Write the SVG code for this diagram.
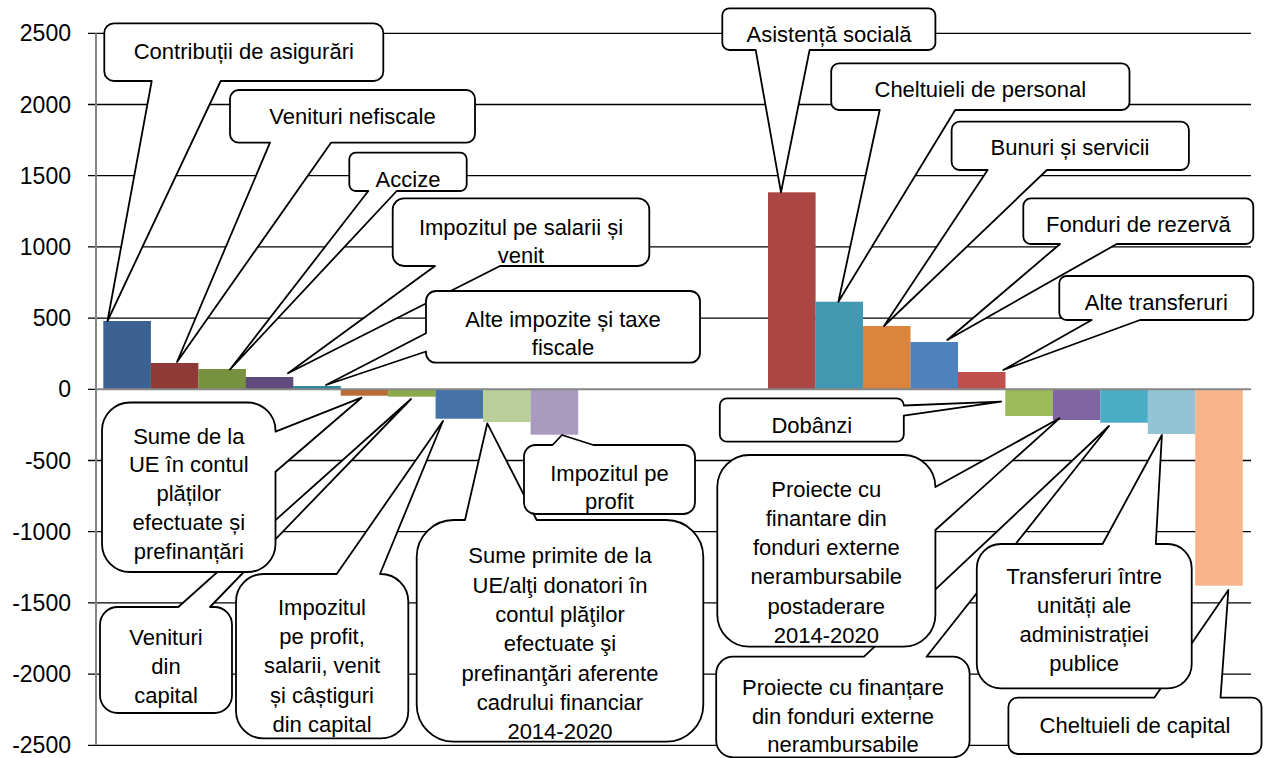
<svg xmlns="http://www.w3.org/2000/svg" width="1264" height="758" viewBox="0 0 1264 758">
<style>
.grid{stroke:#000;stroke-width:1.3;fill:none}
.axis{stroke:#868686;stroke-width:2;fill:none}
.ax{font-family:"Liberation Sans",Arial,sans-serif;font-size:23px;fill:#000;text-anchor:end}
.co{fill:#fff;stroke:#000;stroke-width:1.8;stroke-linejoin:round}
.t{font-family:"Liberation Sans",Arial,sans-serif;font-size:22px;fill:#000;text-anchor:middle}
</style>
<rect width="1264" height="758" fill="#fff"/>
<g id="gridlines">
<path class="grid" d="M88,33.3H1251M88,104.5H1251M88,175.7H1251M88,246.9H1251M88,318.1H1251M88,460.5H1251M88,531.7H1251M88,602.9H1251M88,674.1H1251M88,745.3H1251M88,389.3H96"/>
</g>
<g id="axis-labels">
<text class="ax" x="71" y="41.3">2500</text>
<text class="ax" x="71" y="112.5">2000</text>
<text class="ax" x="71" y="183.7">1500</text>
<text class="ax" x="71" y="254.9">1000</text>
<text class="ax" x="71" y="326.1">500</text>
<text class="ax" x="71" y="397.3">0</text>
<text class="ax" x="71" y="468.5">-500</text>
<text class="ax" x="71" y="539.7">-1000</text>
<text class="ax" x="71" y="610.9">-1500</text>
<text class="ax" x="71" y="682.1">-2000</text>
<text class="ax" x="71" y="753.3">-2500</text>
</g>
<g id="bars">
<rect x="103.3" y="321" width="47.6" height="68.3" fill="#3C6291"/>
<rect x="150.8" y="363" width="47.6" height="26.3" fill="#8F3A37"/>
<rect x="198.3" y="369" width="47.6" height="20.3" fill="#76923F"/>
<rect x="245.7" y="377" width="47.6" height="12.3" fill="#604A7B"/>
<rect x="293.2" y="386" width="47.6" height="3.3" fill="#31859C"/>
<rect x="340.7" y="389.3" width="47.6" height="6.4" fill="#B86B35"/>
<rect x="388.2" y="389.3" width="47.6" height="7.4" fill="#8BA84F"/>
<rect x="435.6" y="389.3" width="47.6" height="29.4" fill="#4672A8"/>
<rect x="483.1" y="389.3" width="47.6" height="32.7" fill="#B9CE98"/>
<rect x="530.6" y="389.3" width="47.6" height="45.4" fill="#A99BBD"/>
<rect x="768" y="192.3" width="47.6" height="197" fill="#AA4644"/>
<rect x="815.4" y="301.7" width="47.6" height="87.6" fill="#4298B0"/>
<rect x="862.9" y="326" width="47.6" height="63.3" fill="#DB843D"/>
<rect x="910.4" y="342" width="47.6" height="47.3" fill="#4F81BD"/>
<rect x="957.9" y="372" width="47.6" height="17.3" fill="#C0504D"/>
<rect x="1005.3" y="389.3" width="47.6" height="26.7" fill="#9BBB59"/>
<rect x="1052.8" y="389.3" width="47.6" height="30.7" fill="#8064A2"/>
<rect x="1100.3" y="389.3" width="47.6" height="33.4" fill="#4BACC6"/>
<rect x="1147.8" y="389.3" width="47.6" height="44.7" fill="#93C4D5"/>
<rect x="1195.2" y="389.3" width="47.6" height="196.4" fill="#F8B48C"/>
</g>
<g id="axes">
<path class="axis" d="M96,389.3H1251"/>
<path class="axis" d="M96,33.3V745.3" stroke-width="1.5"/>
</g>
<g id="c1">
<path class="co" d="M113.9,23.3 H373.7 A9.6,9.6 0 0 1 383.3,32.9 V71.4 A9.6,9.6 0 0 1 373.7,81 H220.7 L107.5,321 L151.7,81 H113.9 A9.6,9.6 0 0 1 104.3,71.4 V32.9 A9.6,9.6 0 0 1 113.9,23.3 Z"/>
<text class="t" x="243.8" y="59">Contribuții de asigurări</text>
</g>
<g id="c2">
<path class="co" d="M238.8,90 H466.2 A8.8,8.8 0 0 1 475,98.8 V133.9 A8.8,8.8 0 0 1 466.2,142.7 H331 L177,362 L270,142.7 H238.8 A8.8,8.8 0 0 1 230,133.9 V98.8 A8.8,8.8 0 0 1 238.8,90 Z"/>
<text class="t" x="352.5" y="124.3">Venituri nefiscale</text>
</g>
<g id="c3">
<path class="co" d="M355.7,152.7 H460.3 A6.4,6.4 0 0 1 466.7,159.1 V184.6 A6.4,6.4 0 0 1 460.3,191 H396.7 L230,369.5 L368.3,191 H355.7 A6.4,6.4 0 0 1 349.3,184.6 V159.1 A6.4,6.4 0 0 1 355.7,152.7 Z"/>
<text class="t" x="408" y="187">Accize</text>
</g>
<g id="c4">
<path class="co" d="M404,198.3 H638 A11.3,11.3 0 0 1 649.3,209.6 V254.7 A11.3,11.3 0 0 1 638,266 H500 L288,373.3 L435,266 H404 A11.3,11.3 0 0 1 392.7,254.7 V209.6 A11.3,11.3 0 0 1 404,198.3 Z"/>
<text class="t" x="521" y="235">Impozitul pe salarii și</text>
<text class="t" x="521" y="263">venit</text>
</g>
<g id="c5">
<path class="co" d="M436,291 H690 A10,10 0 0 1 700,301 V352.7 A10,10 0 0 1 690,362.7 H436 A10,10 0 0 1 426,352.7 V351.5 L326,385 L426,333.3 V301 A10,10 0 0 1 436,291 Z"/>
<text class="t" x="563" y="327">Alte impozite și taxe</text>
<text class="t" x="563" y="355">fiscale</text>
</g>
<g id="c7">
<path class="co" d="M117.7,607 H178.3 L411,399 L210,607 H214.3 A17.7,17.7 0 0 1 232,624.7 V695.3 A17.7,17.7 0 0 1 214.3,713 H117.7 A17.7,17.7 0 0 1 100,695.3 V624.7 A17.7,17.7 0 0 1 117.7,607 Z"/>
<text class="t" x="166" y="645">Venituri</text>
<text class="t" x="166" y="674">din</text>
<text class="t" x="166" y="703">capital</text>
</g>
<g id="c6">
<path class="co" d="M130,402.5 H247.5 A28,28 0 0 1 275.5,430.5 V431.7 L361.5,397.7 L275.5,471.7 V544 A28,28 0 0 1 247.5,572 H130 A28,28 0 0 1 102,544 V430.5 A28,28 0 0 1 130,402.5 Z"/>
<text class="t" x="188.8" y="443.5">Sume de la</text>
<text class="t" x="188.8" y="472.3">UE în contul</text>
<text class="t" x="188.8" y="501.1">plăților</text>
<text class="t" x="188.8" y="529.9">efectuate și</text>
<text class="t" x="188.8" y="558.7">prefinanțări</text>
</g>
<g id="c8">
<path class="co" d="M263.4,574 H336.7 L443,421 L380,574 H380.9 A27.4,27.4 0 0 1 408.3,601.4 V710.9 A27.4,27.4 0 0 1 380.9,738.3 H263.4 A27.4,27.4 0 0 1 236,710.9 V601.4 A27.4,27.4 0 0 1 263.4,574 Z"/>
<text class="t" x="322" y="615">Impozitul</text>
<text class="t" x="322" y="644">pe profit,</text>
<text class="t" x="322" y="673">salarii, venit</text>
<text class="t" x="322" y="702.5">și câștiguri</text>
<text class="t" x="322" y="731.5">din capital</text>
</g>
<g id="c9">
<path class="co" d="M453.7,520 H465 L487.3,423.3 L536.7,520 H666.3 A37,37 0 0 1 703.3,557 V704.7 A37,37 0 0 1 666.3,741.7 H453.7 A37,37 0 0 1 416.7,704.7 V557 A37,37 0 0 1 453.7,520 Z"/>
<text class="t" x="560" y="563.3">Sume primite de la</text>
<text class="t" x="560" y="592.7">UE/alţi donatori în</text>
<text class="t" x="560" y="622">contul plăţilor</text>
<text class="t" x="560" y="651.3">efectuate şi</text>
<text class="t" x="560" y="680.7">prefinanţări aferente</text>
<text class="t" x="560" y="710">cadrului financiar</text>
<text class="t" x="560" y="739.3">2014-2020</text>
</g>
<g id="c10">
<path class="co" d="M535.5,445 H552.5 L562,435 L593.3,445 H683.5 A11.5,11.5 0 0 1 695,456.5 V502.5 A11.5,11.5 0 0 1 683.5,514 H535.5 A11.5,11.5 0 0 1 524,502.5 V456.5 A11.5,11.5 0 0 1 535.5,445 Z"/>
<text class="t" x="609.5" y="480.7">Impozitul pe</text>
<text class="t" x="609.5" y="508.5">profit</text>
</g>
<g id="c11">
<path class="co" d="M729.3,8.3 H928.4 A7,7 0 0 1 935.4,15.3 V43 A7,7 0 0 1 928.4,50 H809.6 L781,192.3 L755.7,50 H729.3 A7,7 0 0 1 722.3,43 V15.3 A7,7 0 0 1 729.3,8.3 Z"/>
<text class="t" x="829" y="42">Asistență socială</text>
</g>
<g id="c12">
<path class="co" d="M839,63.3 H1121.7 A7.8,7.8 0 0 1 1129.5,71.1 V102.2 A7.8,7.8 0 0 1 1121.7,110 H955.2 L838.4,301.7 L879.7,110 H839 A7.8,7.8 0 0 1 831.2,102.2 V71.1 A7.8,7.8 0 0 1 839,63.3 Z"/>
<text class="t" x="980.3" y="97">Cheltuieli de personal</text>
</g>
<g id="c13">
<path class="co" d="M959.6,121.7 H1180.9 A8,8 0 0 1 1188.9,129.7 V162 A8,8 0 0 1 1180.9,170 H1046.9 L884,326 L987.6,170 H959.6 A8,8 0 0 1 951.6,162 V129.7 A8,8 0 0 1 959.6,121.7 Z"/>
<text class="t" x="1070" y="155">Bunuri și servicii</text>
</g>
<g id="c14">
<path class="co" d="M1030.9,198.3 H1245.7 A7.6,7.6 0 0 1 1253.3,205.9 V236.4 A7.6,7.6 0 0 1 1245.7,244 H1116.7 L947.3,340 L1060,244 H1030.9 A7.6,7.6 0 0 1 1023.3,236.4 V205.9 A7.6,7.6 0 0 1 1030.9,198.3 Z"/>
<text class="t" x="1138.3" y="232">Fonduri de rezervă</text>
</g>
<g id="c15">
<path class="co" d="M1066.6,276 H1246 A7.3,7.3 0 0 1 1253.3,283.3 V312.7 A7.3,7.3 0 0 1 1246,320 H1140 L1003.3,370 L1091.7,320 H1066.6 A7.3,7.3 0 0 1 1059.3,312.7 V283.3 A7.3,7.3 0 0 1 1066.6,276 Z"/>
<text class="t" x="1156.3" y="310">Alte transferuri</text>
</g>
<g id="c16">
<path class="co" d="M727,398.3 H896.6 A7.2,7.2 0 0 1 903.8,405.5 L1001.2,401.7 L903.8,415.7 V434.5 A7.2,7.2 0 0 1 896.6,441.7 H727 A7.2,7.2 0 0 1 719.8,434.5 V405.5 A7.2,7.2 0 0 1 727,398.3 Z"/>
<text class="t" x="811.8" y="432.7">Dobânzi</text>
</g>
<g id="c18">
<path class="co" d="M733,656.7 H864 L1109,426 L926.5,656.7 H952.8 A16.8,16.8 0 0 1 969.6,673.5 V740.5 A16.8,16.8 0 0 1 952.8,757.3 H733 A16.8,16.8 0 0 1 716.2,740.5 V673.5 A16.8,16.8 0 0 1 733,656.7 Z"/>
<text class="t" x="843" y="695">Proiecte cu finanțare</text>
<text class="t" x="843" y="724">din fonduri externe</text>
<text class="t" x="843" y="752">nerambursabile</text>
</g>
<g id="c17">
<path class="co" d="M749.3,455 H903.4 A32,32 0 0 1 935.4,487 L1059.5,418.3 L935.4,530 V614.7 A32,32 0 0 1 903.4,646.7 H749.3 A32,32 0 0 1 717.3,614.7 V487 A32,32 0 0 1 749.3,455 Z"/>
<text class="t" x="826.3" y="496.7">Proiecte cu</text>
<text class="t" x="826.3" y="526">finantare din</text>
<text class="t" x="826.3" y="555">fonduri externe</text>
<text class="t" x="826.3" y="584">nerambursabile</text>
<text class="t" x="826.3" y="614">postaderare</text>
<text class="t" x="826.3" y="643">2014-2020</text>
</g>
<g id="c20">
<path class="co" d="M1017.8,697.7 H1154.3 L1228.4,590 L1220.5,697.7 H1252.1 A9.4,9.4 0 0 1 1261.5,707.1 V744.6 A9.4,9.4 0 0 1 1252.1,754 H1017.8 A9.4,9.4 0 0 1 1008.4,744.6 V707.1 A9.4,9.4 0 0 1 1017.8,697.7 Z"/>
<text class="t" x="1135" y="733">Cheltuieli de capital</text>
</g>
<g id="c19">
<path class="co" d="M1000.8,544 H1102.6 L1161.9,435 L1155.8,544 H1167.7 A24,24 0 0 1 1191.7,568 V664.3 A24,24 0 0 1 1167.7,688.3 H1000.8 A24,24 0 0 1 976.8,664.3 V568 A24,24 0 0 1 1000.8,544 Z"/>
<text class="t" x="1084.2" y="584">Transferuri între</text>
<text class="t" x="1084.2" y="612.7">unități ale</text>
<text class="t" x="1084.2" y="641.7">administrației</text>
<text class="t" x="1084.2" y="670.7">publice</text>
</g>
</svg>
